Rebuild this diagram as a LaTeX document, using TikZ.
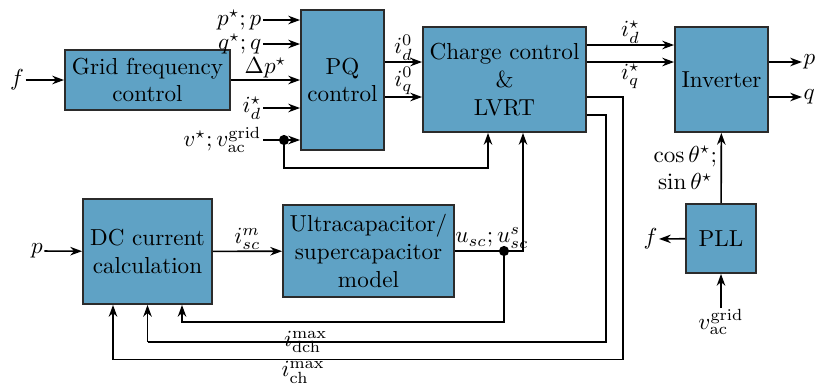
\documentclass[tikz,border=0pt]{standalone}
\usepackage{amsmath,amssymb}
\usepackage{xcolor}
\usepackage{tikz}
\usetikzlibrary{arrows.meta,positioning,calc}
\definecolor{cBlock}{HTML}{5FA2C5}
\definecolor{cEdge}{HTML}{2B2B2B}
\newcommand{\pxu}{0.0152cm}

\begin{document}
\begin{tikzpicture}[x=\pxu, y=-\pxu, >={Stealth[length=1.8mm,width=1.3mm]},
    blockbox/.style={draw=cEdge, fill=cBlock, line width=0.8pt, align=center, inner sep=1pt},
    sig/.style={line width=0.7pt},
    lbl/.style={inner sep=0.5pt},
    jdot/.style={circle, fill=black, inner sep=0pt, minimum size=4.4pt}]
    \useasboundingbox (0,0) rectangle (817,389);
    % blocks
    \node[blockbox, minimum width=165*\pxu, minimum height=60*\pxu] (gfc) at (147.5,80) {Grid frequency\\ control};
    \node[blockbox, minimum width=83*\pxu, minimum height=140*\pxu] (pq) at (342.5,80) {PQ\\ control};
    \node[blockbox, minimum width=163*\pxu, minimum height=105*\pxu] (cc) at (504.5,79.5) {Charge control\\ \&\\ LVRT};
    \node[blockbox, minimum width=93*\pxu, minimum height=105*\pxu] (inv) at (721.5,79.5) {Inverter};
    \node[blockbox, minimum width=129*\pxu, minimum height=105*\pxu] (dcc) at (147.5,251.5) {DC current\\ calculation};
    \node[blockbox, minimum width=171*\pxu, minimum height=92*\pxu] (uc) at (368.5,251) {Ultracapacitor/\\ supercapacitor\\ model};
    \node[blockbox, minimum width=70*\pxu, minimum height=69*\pxu] (pll) at (721,238.5) {PLL};
    % outer signals
    \node[lbl] (fin) at (17,80) {$f$};
    \node[lbl, anchor=east] (pin) at (263,20) {$p^\star; p$};
    \node[lbl, anchor=east] (qin) at (263,44) {$q^\star; q$};
    \node[lbl, anchor=east] (idin) at (263,108) {$i_d^\star$};
    \node[lbl, anchor=east] (vin) at (263,140) {$v^\star; v_{\mathrm{ac}}^{\mathrm{grid}}$};
    \node[lbl] (pdc) at (37,251) {$p$};
    \node[lbl, anchor=west] (pout) at (802,62) {$p$};
    \node[lbl, anchor=west] (qout) at (802,97) {$q$};
    \node[lbl, anchor=east] (fout) at (659,239) {$f$};
    \node[lbl, anchor=north] (vpll) at (721,308) {$v_{\mathrm{ac}}^{\mathrm{grid}}$};
    \node[jdot] (vdot) at (284,140) {};
    \node[jdot] (udot) at (504,251) {};
    \coordinate (pqo1) at ($(pq.east)+(0,-18)$);
    \coordinate (pqo2) at ($(pq.east)+(0,17)$);
    \coordinate (cco1) at ($(cc.east)+(0,-34.5)$);
    \coordinate (cco2) at ($(cc.east)+(0,-17.5)$);
    \coordinate (cco3) at ($(cc.east)+(0,17.5)$);
    \coordinate (cco4) at ($(cc.east)+(0,35.5)$);
    \coordinate (ccin1) at ($(cc.south)+(-16.5,0)$);
    \coordinate (ccin2) at ($(cc.south)+(18.5,0)$);
    \coordinate (dcin1) at ($(dcc.south)+(-34.5,0)$);
    \coordinate (dcin3) at ($(dcc.south)+(34.5,0)$);
    % connectors
    \draw[sig,->] (fin) -- (gfc);
    \draw[sig,->] (pin.east) -- (pin.east -| pq.west);
    \draw[sig,->] (qin.east) -- (qin.east -| pq.west);
    \draw[sig,->] (gfc.east) -- node[lbl, above] (dpl) {$\Delta p^\star$} (gfc.east -| pq.west);
    \draw[sig,->] (idin.east) -- (idin.east -| pq.west);
    \draw[sig,->] (vin.east) -- (vin.east -| pq.west);
    \draw[sig,->] (vdot.center) -- ++(0,28) -| (ccin1);
    \draw[sig,->] (pqo1) -- node[lbl, above] (id0) {$i_d^0$} (pqo1 -| cc.west);
    \draw[sig,->] (pqo2) -- node[lbl, above] (iq0) {$i_q^0$} (pqo2 -| cc.west);
    \draw[sig,->] (cco1) -- node[lbl, above] (ids) {$i_d^\star$} (cco1 -| inv.west);
    \draw[sig,->] (cco2) -- node[lbl, below] (iqs) {$i_q^\star$} (cco2 -| inv.west);
    \draw[sig,->] (inv.east |- pout) -- (pout);
    \draw[sig,->] (inv.east |- qout) -- (qout);
    \draw[sig] (cco3) -- ++(36,0) -- ++(0,262.5) coordinate (chc)
      -- node[lbl, below, pos=0.627] (ich) {$i_{\mathrm{ch}}^{\mathrm{max}}$} (chc -| dcin1);
    \draw[sig,->] (chc -| dcin1) -- (dcin1);
    \draw[sig] (cco4) -- ++(19,0) -- ++(0,227) coordinate (dchc)
      -- node[lbl, pos=0.655] (idch) {$i_{\mathrm{dch}}^{\mathrm{max}}$} (dchc -| dcc.south);
    \draw[sig,->] (dchc -| dcc.south) -- (dcc.south);
    \draw[sig,->] (pdc) -- (dcc);
    \draw[sig,->] (dcc) -- node[lbl, above] (ism) {$i_{sc}^m$} (uc);
    \draw[sig] (uc.east) -- (udot.center);
    \draw[sig,->] (udot.center) -- (udot.center -| ccin2) -- (ccin2);
    \draw[sig,->] (udot.center) -- ++(0,71) -| (dcin3);
    \node[lbl] (usc) at (492,238) {$u_{sc}; u_{sc}^s$};
    \draw[sig,->] (pll) -- (fout);
    \draw[sig,->] (vpll) -- (pll);
    \draw[sig,->] (pll) -- node[lbl, left=1pt, align=center] (cst) {$\cos\theta^\star;$\\ $\sin\theta^\star$} (inv);
\end{tikzpicture}
\end{document}
